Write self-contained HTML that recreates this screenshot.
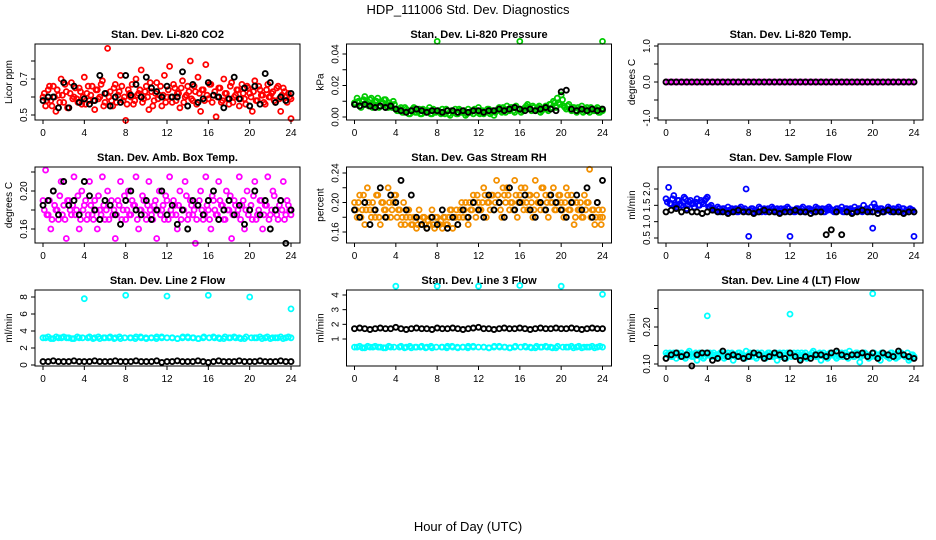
<!DOCTYPE html>
<html><head><meta charset="utf-8"><style>
body{margin:0;background:#fff;}
svg{display:block;font-family:"Liberation Sans",sans-serif;}
</style></head><body>
<svg id="chart" width="936" height="540" viewBox="0 0 936 540" xmlns="http://www.w3.org/2000/svg">
<text x="468" y="14" font-size="13" text-anchor="middle">HDP_111006  Std. Dev. Diagnostics</text>
<text x="468" y="531" font-size="13" text-anchor="middle">Hour of Day (UTC)</text>
</svg>
<script>
const xTicks = [0,4,8,12,16,20,24];
const co2Main = [0.60,0.55,0.64,0.58,0.66,0.52,0.61,0.70,0.57,0.63,0.54,0.68,0.60,0.59,0.65,0.56,0.71,0.62,0.58,0.66,0.53,0.64,0.60,0.69,0.57,0.87,0.63,0.55,0.67,0.61,0.72,0.58,0.47,0.64,0.60,0.56,0.70,0.62,0.75,0.59,0.66,0.53,0.63,0.58,0.68,0.61,0.55,0.72,0.60,0.77,0.57,0.65,0.62,0.54,0.69,0.60,0.66,0.80,0.58,0.63,0.71,0.52,0.64,0.78,0.59,0.67,0.61,0.49,0.65,0.57,0.70,0.62,0.56,0.68,0.60,0.64,0.55,0.67,0.59,0.66,0.62,0.52,0.69,0.58,0.64,0.61,0.56,0.67,0.60,0.63,0.57,0.66,0.52,0.65,0.60,0.62,0.48];
const co2Main2 = [0.62,0.58,0.66,0.55,0.60,0.64,0.57,0.61,0.67,0.54,0.62,0.59,0.65,0.57,0.63,0.60,0.56,0.66,0.61,0.58,0.64,0.59,0.67,0.55,0.62,0.60,0.58,0.65,0.57,0.63,0.66,0.60,0.56,0.62,0.67,0.58,0.61,0.64,0.57,0.63,0.60,0.68,0.55,0.62,0.59,0.66,0.61,0.57,0.64,0.60,0.67,0.58,0.62,0.65,0.57,0.61,0.63,0.59,0.66,0.56,0.62,0.64,0.58,0.61,0.67,0.57,0.63,0.60,0.65,0.58,0.62,0.59,0.66,0.57,0.61,0.64,0.59,0.62,0.56,0.65,0.60,0.63,0.58,0.66,0.61,0.57,0.64,0.60,0.62,0.58,0.65,0.59,0.61,0.63,0.57,0.60,0.59];
const co2Ref = [0.58,0.60,0.60,0.54,0.68,0.54,0.66,0.57,0.59,0.56,0.58,0.72,0.62,0.55,0.60,0.57,0.72,0.61,0.67,0.60,0.71,0.65,0.63,0.60,0.66,0.60,0.60,0.74,0.55,0.67,0.57,0.59,0.68,0.61,0.60,0.54,0.59,0.71,0.59,0.65,0.55,0.66,0.56,0.73,0.68,0.57,0.60,0.58,0.62];
const presMain = [0.009,0.012,0.007,0.010,0.013,0.008,0.011,0.006,0.010,0.012,0.007,0.009,0.011,0.006,0.008,0.010,0.005,0.004,0.006,0.003,0.005,0.002,0.004,0.006,0.003,0.005,0.002,0.004,0.003,0.006,0.002,0.004,0.048,0.003,0.005,0.002,0.004,0.001,0.003,0.005,0.002,0.004,0.003,0.001,0.005,0.003,0.002,0.004,0.006,0.003,0.002,0.004,0.005,0.003,0.001,0.004,0.006,0.003,0.005,0.007,0.004,0.006,0.003,0.005,0.048,0.004,0.006,0.008,0.005,0.007,0.004,0.006,0.003,0.005,0.007,0.004,0.008,0.010,0.006,0.009,0.014,0.007,0.005,0.008,0.004,0.006,0.003,0.005,0.007,0.004,0.006,0.003,0.005,0.004,0.006,0.003,0.048];
const presMain2 = [0.008,0.010,0.006,0.011,0.009,0.007,0.012,0.008,0.010,0.006,0.009,0.011,0.007,0.009,0.006,0.008,0.004,0.005,0.003,0.006,0.004,0.002,0.005,0.003,0.004,0.002,0.005,0.003,0.004,0.002,0.005,0.003,0.004,0.002,0.003,0.005,0.002,0.004,0.003,0.002,0.005,0.003,0.004,0.002,0.003,0.004,0.005,0.003,0.002,0.004,0.003,0.005,0.002,0.004,0.003,0.005,0.004,0.006,0.003,0.005,0.006,0.004,0.007,0.005,0.003,0.005,0.007,0.006,0.004,0.006,0.005,0.007,0.004,0.006,0.005,0.008,0.006,0.009,0.012,0.008,0.011,0.006,0.007,0.005,0.006,0.004,0.006,0.005,0.003,0.005,0.004,0.006,0.004,0.005,0.003,0.005,0.004];
const presRef = [0.008,0.007,0.008,0.007,0.006,0.007,0.006,0.007,0.005,0.004,0.003,0.004,0.005,0.004,0.003,0.004,0.004,0.003,0.004,0.004,0.003,0.004,0.003,0.004,0.004,0.003,0.004,0.004,0.005,0.004,0.005,0.006,0.005,0.004,0.005,0.004,0.005,0.006,0.005,0.004,0.016,0.017,0.005,0.004,0.005,0.004,0.005,0.004,0.005];
const tempMain = [0,0,0,0,0,0,0,0,0,0,0,0,0,0,0,0,0,0,0,0,0,0,0,0,0,0,0,0,0,0,0,0,0,0,0,0,0,0,0,0,0,0,0,0,0,0,0,0,0,0,0,0,0,0,0,0,0,0,0,0,0,0,0,0,0,0,0,0,0,0,0,0,0,0,0,0,0,0,0,0,0,0,0,0,0,0,0,0,0,0,0,0,0,0,0,0,0];
const tempMain2 = [];
const tempRef = [0,0,0,0,0,0,0,0,0,0,0,0,0,0,0,0,0,0,0,0,0,0,0,0,0,0,0,0,0,0,0,0,0,0,0,0,0,0,0,0,0,0,0,0,0,0,0,0,0];
const boxMain = [0.19,0.222,0.175,0.16,0.20,0.18,0.17,0.21,0.185,0.15,0.19,0.175,0.215,0.18,0.16,0.20,0.185,0.17,0.21,0.175,0.19,0.16,0.18,0.215,0.17,0.20,0.185,0.175,0.15,0.19,0.21,0.18,0.17,0.20,0.175,0.185,0.215,0.16,0.18,0.19,0.17,0.21,0.175,0.185,0.15,0.20,0.18,0.17,0.19,0.215,0.175,0.185,0.16,0.20,0.18,0.21,0.17,0.19,0.175,0.145,0.185,0.20,0.17,0.215,0.18,0.16,0.19,0.175,0.21,0.185,0.17,0.20,0.18,0.15,0.19,0.175,0.215,0.185,0.16,0.20,0.18,0.17,0.21,0.175,0.19,0.16,0.185,0.215,0.175,0.20,0.18,0.17,0.19,0.21,0.175,0.185,0.18];
const boxMain2 = [0.18,0.175,0.19,0.17,0.185,0.18,0.195,0.175,0.17,0.19,0.18,0.185,0.175,0.195,0.17,0.18,0.19,0.175,0.185,0.17,0.18,0.195,0.175,0.185,0.18,0.17,0.19,0.18,0.175,0.185,0.17,0.195,0.18,0.175,0.19,0.185,0.17,0.18,0.195,0.175,0.185,0.18,0.17,0.19,0.18,0.175,0.185,0.195,0.17,0.18,0.19,0.175,0.185,0.17,0.18,0.195,0.175,0.185,0.18,0.17,0.19,0.18,0.175,0.185,0.17,0.195,0.18,0.175,0.19,0.185,0.17,0.18,0.195,0.175,0.185,0.18,0.17,0.19,0.18,0.175,0.185,0.195,0.17,0.18,0.19,0.175,0.185,0.17,0.18,0.195,0.175,0.185,0.18,0.17,0.19,0.18,0.175];
const boxRef = [0.185,0.19,0.20,0.175,0.21,0.185,0.19,0.175,0.21,0.195,0.18,0.17,0.19,0.185,0.175,0.165,0.19,0.20,0.18,0.175,0.19,0.17,0.18,0.20,0.175,0.185,0.165,0.18,0.16,0.19,0.185,0.175,0.19,0.20,0.17,0.18,0.19,0.175,0.185,0.165,0.18,0.20,0.175,0.19,0.16,0.18,0.19,0.145,0.18];
const rhMain = [0.20,0.18,0.21,0.19,0.17,0.22,0.19,0.20,0.18,0.21,0.17,0.20,0.19,0.22,0.18,0.20,0.21,0.19,0.17,0.20,0.18,0.19,0.17,0.18,0.165,0.19,0.17,0.18,0.165,0.17,0.19,0.165,0.18,0.17,0.165,0.18,0.17,0.19,0.165,0.18,0.17,0.19,0.18,0.20,0.17,0.19,0.21,0.18,0.20,0.19,0.22,0.18,0.20,0.21,0.19,0.23,0.20,0.18,0.21,0.22,0.19,0.20,0.23,0.18,0.21,0.20,0.22,0.19,0.21,0.18,0.23,0.20,0.19,0.22,0.21,0.18,0.20,0.22,0.19,0.21,0.20,0.18,0.22,0.19,0.21,0.17,0.20,0.19,0.18,0.21,0.20,0.245,0.19,0.17,0.20,0.18,0.19];
const rhMain2 = [0.19,0.20,0.18,0.21,0.19,0.20,0.18,0.19,0.21,0.18,0.20,0.19,0.18,0.20,0.19,0.21,0.18,0.19,0.18,0.17,0.19,0.18,0.17,0.18,0.17,0.175,0.18,0.17,0.175,0.18,0.17,0.18,0.17,0.175,0.18,0.17,0.18,0.19,0.18,0.19,0.18,0.20,0.19,0.18,0.20,0.19,0.20,0.21,0.19,0.20,0.21,0.20,0.19,0.21,0.20,0.21,0.19,0.22,0.20,0.21,0.20,0.19,0.21,0.20,0.22,0.19,0.20,0.21,0.20,0.19,0.21,0.20,0.22,0.19,0.20,0.21,0.20,0.19,0.20,0.21,0.19,0.20,0.21,0.19,0.20,0.18,0.19,0.20,0.18,0.19,0.20,0.18,0.19,0.18,0.19,0.17,0.18];
const rhRef = [0.19,0.18,0.20,0.17,0.19,0.22,0.18,0.21,0.20,0.23,0.19,0.21,0.18,0.17,0.165,0.18,0.17,0.19,0.165,0.18,0.17,0.19,0.18,0.20,0.19,0.18,0.21,0.19,0.20,0.18,0.22,0.19,0.20,0.21,0.19,0.18,0.20,0.19,0.21,0.20,0.19,0.18,0.20,0.21,0.19,0.22,0.18,0.20,0.23];
const flowMain = [1.70,2.05,1.55,1.80,1.45,1.65,1.50,1.75,1.40,1.60,1.55,1.45,1.70,1.50,1.60,1.65,1.75,1.45,1.40,1.35,1.45,1.30,1.40,1.35,1.45,1.30,1.35,1.40,1.30,1.45,1.35,2.00,0.55,1.40,1.30,1.35,1.45,1.30,1.40,1.35,1.30,1.45,1.35,1.40,1.30,1.35,1.40,1.45,0.55,1.35,1.30,1.40,1.35,1.45,1.30,1.40,1.35,1.30,1.45,1.40,1.35,1.30,1.40,1.45,1.35,1.30,1.40,1.35,1.45,1.30,1.40,1.35,1.30,1.45,1.35,1.40,1.30,1.35,1.40,1.30,0.80,1.45,1.35,1.40,1.30,1.35,1.45,1.30,1.40,1.35,1.45,1.30,1.40,1.35,1.30,1.35,0.55];
const flowMain2 = [1.60,1.55,1.70,1.50,1.65,1.55,1.60,1.70,1.50,1.65,1.55,1.60,1.50,1.65,1.55,1.70,1.45,1.50,1.40,1.35,1.40,1.35,1.40,1.30,1.35,1.40,1.35,1.30,1.40,1.35,1.40,1.30,1.35,1.40,1.35,1.30,1.40,1.35,1.30,1.40,1.35,1.40,1.30,1.35,1.40,1.35,1.30,1.40,1.35,1.30,1.40,1.35,1.40,1.30,1.35,1.40,1.35,1.30,1.40,1.35,1.40,1.30,1.35,1.40,1.35,1.30,1.40,1.35,1.30,1.40,1.35,1.40,1.30,1.35,1.40,1.35,1.50,1.40,1.35,1.45,1.55,1.40,1.35,1.40,1.30,1.35,1.40,1.35,1.30,1.40,1.35,1.40,1.30,1.35,1.40,1.35,1.30];
const flowRef = [1.30,1.35,1.40,1.30,1.35,1.30,1.30,1.25,1.30,1.35,1.30,1.30,1.25,1.30,1.35,1.30,1.30,1.25,1.30,1.35,1.30,1.30,1.25,1.30,1.30,1.35,1.30,1.30,1.25,1.30,1.30,0.60,0.75,1.30,0.60,1.30,1.25,1.30,1.35,1.30,1.30,1.25,1.30,1.35,1.30,1.30,1.25,1.30,1.30];
const l2Main = [3.2,3.3,3.1,3.2,3.3,3.2,3.1,3.2,7.8,3.3,3.2,3.1,3.2,3.3,3.2,3.1,8.2,3.2,3.3,3.2,3.1,3.2,3.3,3.2,8.1,3.2,3.1,3.2,3.3,3.2,3.1,3.2,8.2,3.3,3.2,3.1,3.2,3.3,3.2,3.1,8.0,3.2,3.3,3.2,3.1,3.2,3.3,3.2,6.6];
const l2Main2 = [3.2,3.1,3.3,3.2,3.2,3.1,3.3,3.2,3.2,3.1,3.3,3.2,3.2,3.1,3.3,3.2,3.2,3.1,3.3,3.2,3.2,3.1,3.3,3.2,3.2,3.1,3.3,3.2,3.2,3.1,3.3,3.2,3.2,3.1,3.3,3.2,3.2,3.1,3.3,3.2,3.2,3.1,3.3,3.2,3.2,3.1,3.3,3.2];
const l2Ref = [0.4,0.4,0.5,0.4,0.4,0.4,0.5,0.4,0.4,0.4,0.5,0.4,0.4,0.4,0.5,0.4,0.4,0.4,0.5,0.4,0.4,0.4,0.5,0.3,0.4,0.4,0.5,0.4,0.4,0.4,0.5,0.4,0.3,0.4,0.5,0.4,0.4,0.4,0.5,0.4,0.4,0.4,0.5,0.4,0.4,0.4,0.5,0.4,0.4];
const l3Main = [0.45,0.5,0.4,0.45,0.5,0.45,0.4,0.45,4.6,0.5,0.45,0.4,0.45,0.5,0.45,0.4,4.6,0.45,0.5,0.45,0.4,0.45,0.5,0.45,4.6,0.45,0.4,0.45,0.5,0.45,0.4,0.45,4.65,0.5,0.45,0.4,0.45,0.5,0.45,0.4,4.6,0.45,0.5,0.45,0.4,0.45,0.5,0.45,4.05];
const l3Main2 = [0.45,0.4,0.5,0.45,0.45,0.4,0.5,0.45,0.45,0.4,0.5,0.45,0.45,0.4,0.5,0.45,0.45,0.4,0.5,0.45,0.45,0.4,0.5,0.45,0.45,0.4,0.5,0.45,0.45,0.4,0.5,0.45,0.45,0.4,0.5,0.45,0.45,0.4,0.5,0.45,0.45,0.4,0.5,0.45,0.45,0.4,0.5,0.45];
const l3Ref = [1.7,1.75,1.7,1.65,1.7,1.75,1.7,1.7,1.8,1.7,1.65,1.7,1.75,1.7,1.7,1.65,1.75,1.7,1.7,1.75,1.7,1.65,1.7,1.75,1.8,1.7,1.7,1.65,1.7,1.75,1.7,1.7,1.75,1.7,1.65,1.7,1.75,1.7,1.7,1.75,1.7,1.7,1.75,1.7,1.65,1.7,1.75,1.7,1.7];
const l4Main = [0.13,0.125,0.12,0.13,0.115,0.125,0.13,0.12,0.125,0.135,0.12,0.125,0.11,0.13,0.125,0.12,0.23,0.13,0.125,0.12,0.115,0.13,0.125,0.12,0.13,0.125,0.11,0.12,0.13,0.125,0.12,0.135,0.125,0.12,0.13,0.115,0.125,0.13,0.12,0.125,0.13,0.12,0.125,0.11,0.13,0.125,0.12,0.13,0.235,0.125,0.12,0.13,0.115,0.125,0.13,0.12,0.125,0.135,0.12,0.125,0.11,0.13,0.125,0.12,0.13,0.125,0.115,0.12,0.13,0.125,0.12,0.135,0.125,0.12,0.13,0.105,0.125,0.13,0.12,0.125,0.29,0.12,0.125,0.11,0.13,0.125,0.12,0.13,0.125,0.115,0.12,0.13,0.125,0.12,0.11,0.125,0.12];
const l4Main2 = [0.125,0.13,0.12,0.125,0.13,0.12,0.125,0.115,0.13,0.125,0.12,0.13,0.125,0.12,0.115,0.13,0.125,0.12,0.13,0.125,0.12,0.13,0.115,0.125,0.12,0.13,0.125,0.12,0.13,0.125,0.115,0.12,0.13,0.125,0.12,0.13,0.125,0.12,0.115,0.13,0.125,0.12,0.13,0.125,0.12,0.13,0.115,0.125,0.12,0.13,0.125,0.12,0.13,0.125,0.115,0.12,0.13,0.125,0.12,0.13,0.125,0.12,0.115,0.13,0.125,0.12,0.13,0.125,0.12,0.13,0.115,0.125,0.12,0.13,0.125,0.12,0.13,0.125,0.115,0.12,0.13,0.125,0.12,0.13,0.125,0.12,0.115,0.13,0.125,0.12,0.13,0.125,0.12,0.13,0.115,0.125,0.12];
const l4Ref = [0.115,0.125,0.13,0.12,0.125,0.095,0.125,0.13,0.13,0.11,0.115,0.135,0.12,0.125,0.12,0.115,0.12,0.13,0.125,0.115,0.12,0.13,0.125,0.115,0.13,0.12,0.11,0.12,0.115,0.125,0.125,0.12,0.13,0.135,0.125,0.12,0.125,0.125,0.13,0.12,0.13,0.115,0.13,0.125,0.12,0.135,0.125,0.12,0.115];

const panels = [
 {name:'co2',title:'Stan. Dev. Li-820 CO2',ylab:'Licor ppm',col:0,row:0,v0:0.5,p0:115,v1:0.7,p1:79,ticks:[0.5,0.6,0.7,0.8],labels:['0.5','','0.7',''],main:co2Main,main2:co2Main2,ref:co2Ref,color:'#ff0000'},
 {name:'pressure',title:'Stan. Dev. Li-820 Pressure',ylab:'kPa',col:1,row:0,v0:0,p0:117,v1:0.04,p1:54,ticks:[0,0.01,0.02,0.03,0.04],labels:['0.00','','0.02','','0.04'],main:presMain,main2:presMain2,ref:presRef,color:'#00cc00'},
 {name:'temp',title:'Stan. Dev. Li-820 Temp.',ylab:'degrees C',col:2,row:0,v0:0,p0:82,v1:1,p1:46,ticks:[-1,-0.5,0,0.5,1],labels:['-1.0','','0.0','','1.0'],main:tempMain,main2:tempMain2,ref:tempRef,color:'#ff00ff'},
 {name:'amb-box-temp',title:'Stan. Dev. Amb. Box Temp.',ylab:'degrees C',col:0,row:1,v0:0.16,p0:229,v1:0.20,p1:191,ticks:[0.16,0.18,0.20,0.22],labels:['0.16','','0.20',''],main:boxMain,main2:boxMain2,ref:boxRef,color:'#ff00ff'},
 {name:'gas-rh',title:'Stan. Dev. Gas Stream RH',ylab:'percent',col:1,row:1,v0:0.16,p0:232,v1:0.24,p1:173,ticks:[0.16,0.18,0.20,0.22,0.24],labels:['0.16','','0.20','','0.24'],main:rhMain,main2:rhMain2,ref:rhRef,color:'#f39000'},
 {name:'sample-flow',title:'Stan. Dev. Sample Flow',ylab:'ml/min',col:2,row:1,v0:0.5,p0:238,v1:2.0,p1:189,ticks:[0.5,1.0,1.5,2.0],labels:['0.5','1.0','1.5','2.0'],main:flowMain,main2:flowMain2,ref:flowRef,color:'#0000ff'},
 {name:'line2-flow',title:'Stan. Dev. Line 2 Flow',ylab:'ml/min',col:0,row:2,v0:0,p0:365,v1:8,p1:297,ticks:[0,2,4,6,8],labels:['0','2','4','6','8'],main:l2Main,main2:l2Main2,ref:l2Ref,color:'#00ffff'},
 {name:'line3-flow',title:'Stan. Dev. Line 3 Flow',ylab:'ml/min',col:1,row:2,v0:1,p0:339,v1:4,p1:295,ticks:[1,2,3,4],labels:['1','2','3','4'],main:l3Main,main2:l3Main2,ref:l3Ref,color:'#00ffff'},
 {name:'line4-flow',title:'Stan. Dev. Line 4 (LT) Flow',ylab:'ml/min',col:2,row:2,v0:0.10,p0:364,v1:0.20,p1:327,ticks:[0.10,0.15,0.20,0.25],labels:['0.10','','0.20',''],main:l4Main,main2:l4Main2,ref:l4Ref,color:'#00ffff'}
];
const NS='http://www.w3.org/2000/svg';
const svg=document.getElementById('chart');
function mk(tag,attrs,parent){const e=document.createElementNS(NS,tag);for(const k in attrs)e.setAttribute(k,attrs[k]);parent.appendChild(e);return e;}
panels.forEach(p=>{
  const left=35+p.col*311.5, top=44+p.row*123, W=265, H=76;
  const g=mk('g',{},svg);
  
  
  const xs=h=>left+8+h*248/24;
  const ys=v=>p.p0+(v-p.v0)*(p.p1-p.p0)/(p.v1-p.v0);
  const t=mk('text',{x:left+W/2,y:top-6,'font-size':11,'font-weight':'bold','text-anchor':'middle'},g);
  t.textContent=p.title;
  
  
  const drawSeries=(vals,color,nm,offset,sw)=>{
    const sg=mk('g',{fill:'none',stroke:color,'stroke-width':sw},g);
    
    
    const n=Math.max(vals.length-1,1);
    vals.forEach((v,i)=>{
      const h=Math.min(24,i*24/n+(offset?12/n:0));
      const c=mk('circle',{cx:xs(h).toFixed(1),cy:ys(v).toFixed(1),r:2.5},sg);
      
      
    });
  };
  drawSeries(p.main,p.color,'series-main',false,1.8);
  drawSeries(p.main2,p.color,'series-main-b',true,1.8);
  drawSeries(p.ref,'#000','series-reference',false,1.9);
  const box=mk('rect',{x:left,y:top,width:W,height:H,fill:'none',stroke:'#000','stroke-width':1},g);
  
  
  const xa=mk('g',{},g);
  
  
  mk('line',{x1:xs(0),x2:xs(24),y1:top+H,y2:top+H,stroke:'#000'},xa);
  xTicks.forEach(h=>{
    mk('line',{x1:xs(h),x2:xs(h),y1:top+H,y2:top+H+4,stroke:'#000'},xa);
    const tl=mk('text',{x:xs(h),y:top+H+16,'font-size':10,'text-anchor':'middle'},xa);
    tl.textContent=h;
    
    
  });
  const ya=mk('g',{},g);
  
  
  mk('line',{x1:left,x2:left,y1:ys(p.ticks[0]),y2:ys(p.ticks[p.ticks.length-1]),stroke:'#000'},ya);
  p.ticks.forEach((v,i)=>{
    const y=ys(v);
    mk('line',{x1:left-4,x2:left,y1:y,y2:y,stroke:'#000'},ya);
    if(p.labels[i]){
      const tl=mk('text',{x:left-8,y:y,'font-size':10,'text-anchor':'middle',transform:`rotate(-90 ${left-8} ${y})`},ya);
      tl.textContent=p.labels[i];
      
      
    }
  });
  const yl=mk('text',{x:left-23,y:top+H/2,'font-size':10,'text-anchor':'middle',transform:`rotate(-90 ${left-23} ${top+H/2})`},g);
  yl.textContent=p.ylab;
  
  
});
</script>
</body></html>
